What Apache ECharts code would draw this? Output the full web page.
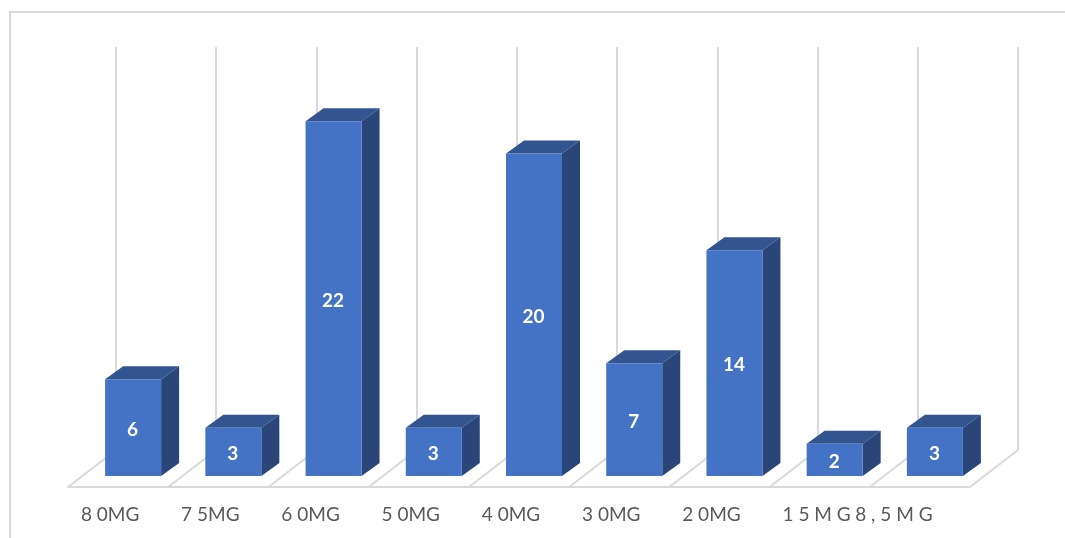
<!DOCTYPE html>
<html>
<head>
<meta charset="utf-8">
<style>
  html, body { margin: 0; padding: 0; background: #fff; }
  #chart { width: 1065px; height: 538px; }
</style>
<script src="https://cdn.jsdelivr.net/npm/echarts@6/dist/echarts.min.js"></script>
</head>
<body>
<div id="chart"></div>
<script>
// Patient counts per dose
const categories = ['8 0MG', '7 5MG', '6 0MG', '5 0MG', '4 0MG', '3 0MG', '2 0MG', '1 5 M G', '8 , 5 M G'];
const counts = [6, 3, 22, 3, 20, 7, 14, 2, 3];

const GRID_COLOR = '#d9d9d9';
const FACE_FRONT = '#4472c4';
const FACE_TOP = '#32558f';
const FACE_SIDE = '#2a4679';

// Projection of the box: the axes sit on the back wall, bars and floor come forward
const BAR_WIDTH = 56;
const BAR_SHIFT = [-33, 26];
const BAR_DEPTH = [18, -13];
const FLOOR_SHIFT = [-48, 37];

// The two widest labels are nudged so they do not run into each other
const LABEL_PADDING = {
  '1 5 M G': [0, 6, 0, 0],
  '8 , 5 M G': [0, 52, 0, 0]
};
const DEFAULT_LABEL_PADDING = [0, 16, 0, 0];

function renderBar(params, api) {
  const top = api.coord([api.value(0), api.value(1)]);
  const base = api.coord([api.value(0), 0]);
  const x0 = top[0] + BAR_SHIFT[0] - BAR_WIDTH / 2;
  const x1 = x0 + BAR_WIDTH;
  const yTop = top[1] + BAR_SHIFT[1];
  const yBase = base[1] + BAR_SHIFT[1];
  const [dx, dy] = BAR_DEPTH;
  return {
    type: 'group',
    children: [
      {
        type: 'polygon',
        shape: { points: [[x0, yTop], [x0 + dx, yTop + dy], [x1 + dx, yTop + dy], [x1, yTop]] },
        style: { fill: FACE_TOP }
      },
      {
        type: 'polygon',
        shape: { points: [[x1, yTop], [x1 + dx, yTop + dy], [x1 + dx, yBase + dy], [x1, yBase]] },
        style: { fill: FACE_SIDE }
      },
      {
        type: 'rect',
        shape: { x: x0, y: yTop, width: BAR_WIDTH, height: yBase - yTop },
        style: { fill: FACE_FRONT }
      },
      {
        type: 'text',
        style: {
          x: (x0 + x1) / 2 - 0.5,
          y: (yTop + yBase) / 2 + 2,
          text: String(api.value(1)),
          fill: '#fff',
          font: 'bold 19px Lato',
          align: 'center',
          verticalAlign: 'middle'
        }
      }
    ]
  };
}

// Diagonal floor lines running from each wall line towards the viewer
function renderFloorLine(params, api) {
  const band = api.size([1, 0])[0];
  const c = api.coord([api.value(0), 0]);
  const x = c[0] + band * api.value(1);
  return {
    type: 'line',
    shape: { x1: x, y1: c[1], x2: x + FLOOR_SHIFT[0], y2: c[1] + FLOOR_SHIFT[1] },
    style: { stroke: GRID_COLOR, lineWidth: 2 }
  };
}

const floorLines = categories.map((c, i) => [i, -0.5]);
floorLines.push([categories.length - 1, 0.5]);

const chart = echarts.init(document.getElementById('chart'), null, { renderer: 'canvas' });
chart.setOption({
  animation: false,
  backgroundColor: '#fff',
  graphic: [
    {
      type: 'polyline',
      silent: true,
      shape: { points: [[10, 538], [10, 12], [1065, 12]] },
      style: { stroke: GRID_COLOR, lineWidth: 2, fill: null }
    }
  ],
  grid: [
    { left: 116, width: 902, top: 47, height: 403 },
    { left: 68, width: 902, top: 47, height: 440 }
  ],
  xAxis: [
    {
      type: 'category',
      gridIndex: 0,
      data: categories,
      axisLine: { show: false },
      axisTick: { show: false },
      axisLabel: { show: false },
      splitLine: { show: true, lineStyle: { color: GRID_COLOR, width: 2 } }
    },
    {
      type: 'category',
      gridIndex: 1,
      data: categories.map((name) => ({
        value: name,
        textStyle: { padding: LABEL_PADDING[name] || DEFAULT_LABEL_PADDING }
      })),
      axisLine: { show: true, lineStyle: { color: GRID_COLOR, width: 2 } },
      axisTick: { show: false },
      axisLabel: {
        interval: 0,
        color: '#595959',
        fontFamily: 'Lato',
        fontSize: 19,
        margin: 18,
        hideOverlap: false
      }
    }
  ],
  yAxis: [
    { type: 'value', gridIndex: 0, min: 0, max: 25, show: false, splitLine: { show: false } },
    { type: 'value', gridIndex: 1, min: 0, max: 25, show: false, splitLine: { show: false } }
  ],
  series: [
    {
      type: 'custom',
      xAxisIndex: 0,
      yAxisIndex: 0,
      z: 2,
      silent: true,
      encode: { x: 0 },
      renderItem: renderFloorLine,
      data: floorLines
    },
    {
      type: 'custom',
      xAxisIndex: 0,
      yAxisIndex: 0,
      z: 3,
      clip: false,
      encode: { x: 0, y: 1 },
      renderItem: renderBar,
      data: counts.map((v, i) => [i, v])
    }
  ]
});
</script>
</body>
</html>
